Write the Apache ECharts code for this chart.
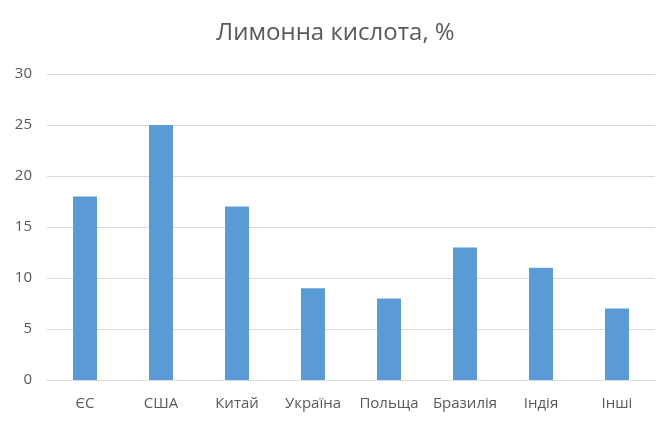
<!DOCTYPE html>
<html><head><meta charset="utf-8">
<script src="https://cdn.jsdelivr.net/npm/echarts@6/dist/echarts.min.js"></script>
<style>html,body{margin:0;padding:0;background:#fff}#c{width:671px;height:425px}</style>
</head><body><div id="c"></div>
<script>
const categories = ['ЄС','США','Китай','Україна','Польща','Бразилія','Індія','Інші'];
const values = [18,25,17,9,8,13,11,7];
const chart = echarts.init(document.getElementById('c'), null, {renderer:'canvas'});
chart.setOption({
  animation:false,
  title:{text:'Лимонна кислота, %',left:'center',top:16,textStyle:{fontFamily:'Open Sans',fontSize:24,fontWeight:'normal',color:'#595959'}},
  grid:{left:47,right:16,top:74,bottom:45},
  xAxis:{type:'category',data:categories,axisLine:{lineStyle:{color:'#D9D9D9'}},axisTick:{show:false},
    axisLabel:{color:'#595959',fontFamily:'Open Sans',fontSize:15,margin:16,interval:0}},
  yAxis:{type:'value',min:0,max:30,interval:5,axisLine:{show:false},axisTick:{show:false},
    splitLine:{lineStyle:{color:'#D9D9D9'}},axisLabel:{color:'#595959',fontFamily:'Open Sans',fontSize:15,margin:15}},
  series:[{type:'bar',data:values,barWidth:24,itemStyle:{color:'#5B9BD5'}}]
});
</script></body></html>
